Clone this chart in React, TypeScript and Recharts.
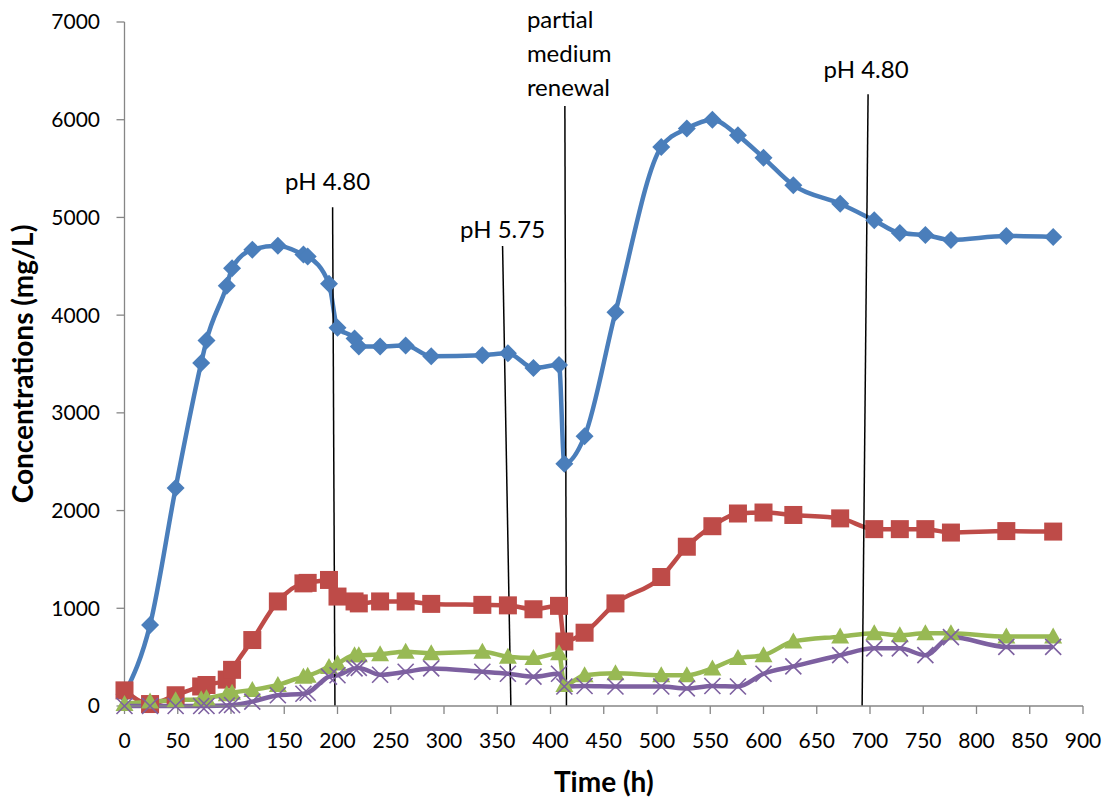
import React from "react";
import { LineChart, Line, XAxis, YAxis, ReferenceLine, ReferenceDot } from "recharts";

const FONT = 'Lato, "Open Sans", sans-serif';

// sampling times (h)
const times = [0, 24, 48, 72, 77, 96, 101, 120, 144, 168, 172, 192, 200, 216, 220, 240, 264, 288, 336, 360, 384, 408, 413, 432, 461, 504, 528, 552, 576, 600, 628, 672, 704, 728, 752, 776, 828, 872];

// concentrations (mg/L)
const blueSeries = [120, 830, 2230, 3510, 3740, 4300, 4480, 4670, 4710, 4620, 4600, 4320, 3870, 3760, 3680, 3680, 3690, 3580, 3590, 3610, 3460, 3490, 2480, 2760, 4030, 5720, 5910, 6000, 5840, 5610, 5330, 5140, 4970, 4840, 4820, 4770, 4810, 4800];
const redSeries = [160, 20, 110, 200, 215, 270, 370, 675, 1070, 1255, 1260, 1290, 1120, 1070, 1050, 1070, 1070, 1045, 1035, 1030, 990, 1025, 660, 750, 1050, 1320, 1630, 1840, 1970, 1980, 1955, 1920, 1810, 1810, 1810, 1775, 1790, 1785];
const greenSeries = [20, 45, 60, 70, 80, 120, 135, 165, 215, 300, 310, 400, 435, 520, 520, 530, 555, 540, 555, 505, 490, 540, 215, 315, 335, 315, 315, 385, 490, 520, 660, 710, 745, 725, 745, 745, 710, 710];
const purpleSeries = [0, 0, 0, 0, 0, 5, 10, 45, 110, 125, 135, 300, 315, 385, 390, 320, 350, 385, 350, 330, 300, 330, 200, 205, 200, 200, 180, 205, 200, 330, 405, 520, 590, 590, 520, 705, 605, 605];

const xTicks = [0, 50, 100, 150, 200, 250, 300, 350, 400, 450, 500, 550, 600, 650, 700, 750, 800, 850, 900];
const yTicks = [0, 1000, 2000, 3000, 4000, 5000, 6000, 7000];

// event markers: text + slanted line from (x1,y1) down to (x2,y2)
const annotations = [
  { lines: ["pH 4.80"], x1: 195.4, y1: 5104, x2: 197.6, y2: 0, anchor: "middle", dx: -5, dy: -17 },
  { lines: ["pH 5.75"], x1: 355, y1: 4708, x2: 362.8, y2: 0, anchor: "middle", dx: 0, dy: -8 },
  { lines: ["partial", "medium", "renewal"], x1: 413.5, y1: 6141, x2: 415, y2: 0, anchor: "start", dx: -38, dy: -10 },
  { lines: ["pH 4.80"], x1: 698.2, y1: 6261, x2: 692.6, y2: 0, anchor: "middle", dx: -2, dy: -16 },
];

const data = times.map((t, i) => ({
  t,
  blue: blueSeries[i],
  red: redSeries[i],
  green: greenSeries[i],
  purple: purpleSeries[i],
}));

const BLUE = "#4A7EBB";
const RED = "#BE4B48";
const GREEN = "#98B954";
const PURPLE = "#7D60A0";
const AXIS = "#868686";

const Diamond = (p: any) => {
  const { cx, cy } = p;
  const r = 9;
  return <path key={p.index} d={`M${cx},${cy - r}L${cx + r},${cy}L${cx},${cy + r}L${cx - r},${cy}Z`} fill={BLUE} />;
};

const Square = (p: any) => {
  const { cx, cy } = p;
  return <rect key={p.index} x={cx - 9} y={cy - 9} width={18} height={18} fill={RED} />;
};

const Triangle = (p: any) => {
  const { cx, cy } = p;
  return <path key={p.index} d={`M${cx},${cy - 9}L${cx + 9},${cy + 7}L${cx - 9},${cy + 7}Z`} fill={GREEN} />;
};

const Cross = (p: any) => {
  const { cx, cy } = p;
  const r = 8;
  return (
    <path
      key={p.index}
      d={`M${cx - r},${cy - r}L${cx + r},${cy + r}M${cx - r},${cy + r}L${cx + r},${cy - r}`}
      stroke={PURPLE}
      strokeWidth={1.6}
      fill="none"
    />
  );
};

const noteShape = (a: (typeof annotations)[number]) => (p: any) => {
  const x = p.cx + a.dx;
  const last = p.cy + a.dy;
  const n = a.lines.length;
  return (
    <text x={x} y={last} textAnchor={a.anchor} fontFamily={FONT} fontSize={24} fill="#000">
      {a.lines.map((s, i) => (
        <tspan key={s} x={x} y={last - (n - 1 - i) * 34}>
          {s}
        </tspan>
      ))}
    </text>
  );
};

export default function App() {
  return (
    <div style={{ position: "absolute", left: 0, top: 0, width: 1110, height: 798, background: "#fff" }}>
      <LineChart width={1110} height={798} data={data} margin={{ top: 22, right: 27, bottom: 0, left: 0 }}>
        <XAxis
          dataKey="t"
          type="number"
          domain={[0, 900]}
          ticks={xTicks}
          interval={0}
          height={92}
          tickSize={8}
          tickMargin={19}
          stroke={AXIS}
          axisLine={{ stroke: AXIS, strokeWidth: 1.3 }}
          tickLine={{ stroke: AXIS, strokeWidth: 1.3 }}
          tick={{ fill: "#000", fontSize: 21, fontFamily: FONT }}
          label={{
            content: (props: any) => {
              const vb = props.viewBox;
              return (
                <text x={vb.x + vb.width / 2} y={vb.y + 86} textAnchor="middle" fontFamily={FONT} fontWeight="bold" fontSize={28} fill="#000">
                  Time (h)
                </text>
              );
            },
          }}
        />
        <YAxis
          type="number"
          domain={[0, 7000]}
          ticks={yTicks}
          interval={0}
          width={124.5}
          tickSize={8}
          tickMargin={16.5}
          stroke={AXIS}
          axisLine={{ stroke: AXIS, strokeWidth: 1.3 }}
          tickLine={{ stroke: AXIS, strokeWidth: 1.3 }}
          tick={{ fill: "#000", fontSize: 21, fontFamily: FONT }}
          label={{
            content: (props: any) => {
              const vb = props.viewBox;
              const x = vb.x + 33;
              const y = vb.y + vb.height / 2;
              return (
                <text x={x} y={y} transform={`rotate(-90 ${x} ${y})`} textAnchor="middle" fontFamily={FONT} fontWeight="bold" fontSize={28} fill="#000">
                  Concentrations (mg/L)
                </text>
              );
            },
          }}
        />
        <Line type="monotone" dataKey="blue" stroke={BLUE} strokeWidth={4.5} dot={Diamond} activeDot={false} isAnimationActive={false} />
        <Line type="monotone" dataKey="red" stroke={RED} strokeWidth={4.5} dot={Square} activeDot={false} isAnimationActive={false} />
        <Line type="monotone" dataKey="green" stroke={GREEN} strokeWidth={4.5} dot={Triangle} activeDot={false} isAnimationActive={false} />
        <Line type="monotone" dataKey="purple" stroke={PURPLE} strokeWidth={4.5} dot={Cross} activeDot={false} isAnimationActive={false} />
        {annotations.map((a, i) => (
          <ReferenceLine
            key={`l${i}`}
            segment={[
              { x: a.x1, y: a.y1 },
              { x: a.x2, y: a.y2 },
            ]}
            stroke="#000"
            strokeWidth={1.5}
          />
        ))}
        {annotations.map((a, i) => (
          <ReferenceDot key={`d${i}`} x={a.x1} y={a.y1} r={0} shape={noteShape(a)} />
        ))}
      </LineChart>
    </div>
  );
}
